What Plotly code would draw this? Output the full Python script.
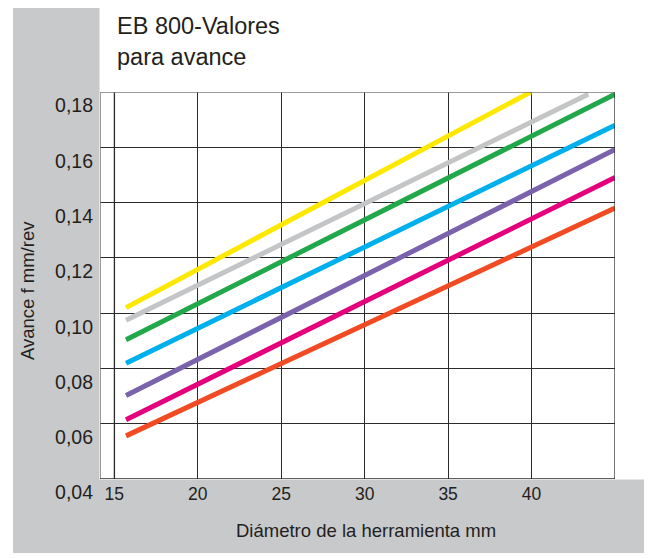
import plotly.graph_objects as go

# Data
series_names = ["Amarillo", "Gris", "Verde", "Azul", "Violeta", "Magenta", "Naranja"]
series_colors = ["#FFE800", "#C4C5C7", "#22A84A", "#00B0EC", "#7A62AC", "#E4007C", "#F04B22"]
x_start = [15.7, 15.7, 15.7, 15.7, 15.7, 15.7, 15.7]
x_end = [39.95, 43.4, 45.0, 45.0, 45.0, 45.0, 45.0]
y_start = [0.102, 0.0974, 0.0904, 0.0819, 0.0702, 0.0614, 0.0556]
y_end = [0.18, 0.1792, 0.1792, 0.168, 0.1592, 0.1491, 0.138]

x_ticks = [15, 20, 25, 30, 35, 40]
y_ticks = [0.04, 0.06, 0.08, 0.10, 0.12, 0.14, 0.16, 0.18]
x_range = [14.14, 45]
y_range = [0.04, 0.18]

title_lines = ["EB 800-Valores", "para avance"]
x_title = "Diámetro de la herramienta mm"
y_title = "Avance f mm/rev"

# the page body has an 8px margin: figure coordinates = reference pixels - 8
OFF = 8
W, H = 652 - OFF, 559 - OFF
L, R, T, B = 100 - OFF, 615 - OFF, 92 - OFF, 479 - OFF
pw, ph = R - L, B - T


def px(x):
    return (x - OFF - L) / pw


def py(y):
    return (B - (y - OFF)) / ph


FONT = "Liberation Sans, Arial, Helvetica, sans-serif"
TXT = "#231f20"
GREY = "#c8c9cb"
GRID = "#2b2b2b"
SOFT = "#7a7a7a"

fig = go.Figure()
for name, c, xs, xe, ys, ye in zip(series_names, series_colors, x_start, x_end, y_start, y_end):
    fig.add_trace(go.Scatter(x=[xs, xe], y=[ys, ye], mode="lines", name=name,
                             line=dict(color=c, width=5), showlegend=False,
                             hoverinfo="skip"))

shapes = [
    dict(type="rect", xref="paper", yref="paper", x0=px(13), x1=px(99.5), y0=py(553), y1=py(6),
         fillcolor=GREY, line=dict(width=0), layer="below"),
    dict(type="rect", xref="paper", yref="paper", x0=px(13), x1=px(648), y0=py(553), y1=py(479.5),
         fillcolor=GREY, line=dict(width=0), layer="below"),
    # frame and first grid line
    dict(type="line", xref="x", yref="y", x0=x_ticks[0], x1=x_ticks[0], y0=y_range[0], y1=y_range[1],
         line=dict(color=SOFT, width=1.5), layer="below"),
    dict(type="line", xref="x", yref="y", x0=x_range[0], x1=x_range[0], y0=y_range[0], y1=y_range[1],
         line=dict(color=SOFT, width=1.5)),
    dict(type="line", xref="x", yref="y", x0=x_range[0], x1=x_range[1], y0=y_range[1], y1=y_range[1],
         line=dict(color=SOFT, width=1.5)),
    dict(type="line", xref="x", yref="y", x0=x_range[1], x1=x_range[1], y0=y_range[0], y1=y_range[1],
         line=dict(color=GRID, width=1.3)),
    dict(type="line", xref="x", yref="y", x0=x_range[0], x1=x_range[1], y0=y_range[0], y1=y_range[0],
         line=dict(color=GRID, width=1.3)),
]

annotations = [
    dict(text=title_lines[0], xref="paper", yref="paper", x=px(115), y=py(26),
         xanchor="left", yanchor="middle", showarrow=False,
         font=dict(family=FONT, size=23.5, color=TXT)),
    dict(text=title_lines[1], xref="paper", yref="paper", x=px(115), y=py(57),
         xanchor="left", yanchor="middle", showarrow=False,
         font=dict(family=FONT, size=23.5, color=TXT)),
    dict(text=x_title, xref="paper", yref="paper", x=px(366), y=py(530),
         xanchor="center", yanchor="middle", showarrow=False,
         font=dict(family=FONT, size=18.5, color=TXT)),
    dict(text=y_title, xref="paper", yref="paper", x=px(27), y=py(291),
         xanchor="center", yanchor="middle", showarrow=False, textangle=-90,
         font=dict(family=FONT, size=18.5, color=TXT)),
]

fig.update_layout(
    width=W, height=H,
    margin=dict(l=L, r=W - R, t=T, b=H - B, pad=0),
    paper_bgcolor="white", plot_bgcolor="white",
    separators=",.",
    font=dict(family=FONT, size=16, color=TXT),
    shapes=shapes, annotations=annotations,
    xaxis=dict(range=x_range, tickvals=x_ticks, showgrid=True, gridcolor=GRID,
               gridwidth=1, showline=False, zeroline=False, ticks="",
               ticklabelstandoff=2, tickfont=dict(size=17.5, color=TXT)),
    yaxis=dict(range=y_range, tickvals=y_ticks, tickformat=".2f", showgrid=True,
               gridcolor=GRID, gridwidth=1, showline=False, zeroline=False, ticks="",
               ticklabelposition="outside bottom", ticklabelstandoff=6,
               tickfont=dict(size=19.5, color=TXT)),
)

fig.write_html("out.html")
